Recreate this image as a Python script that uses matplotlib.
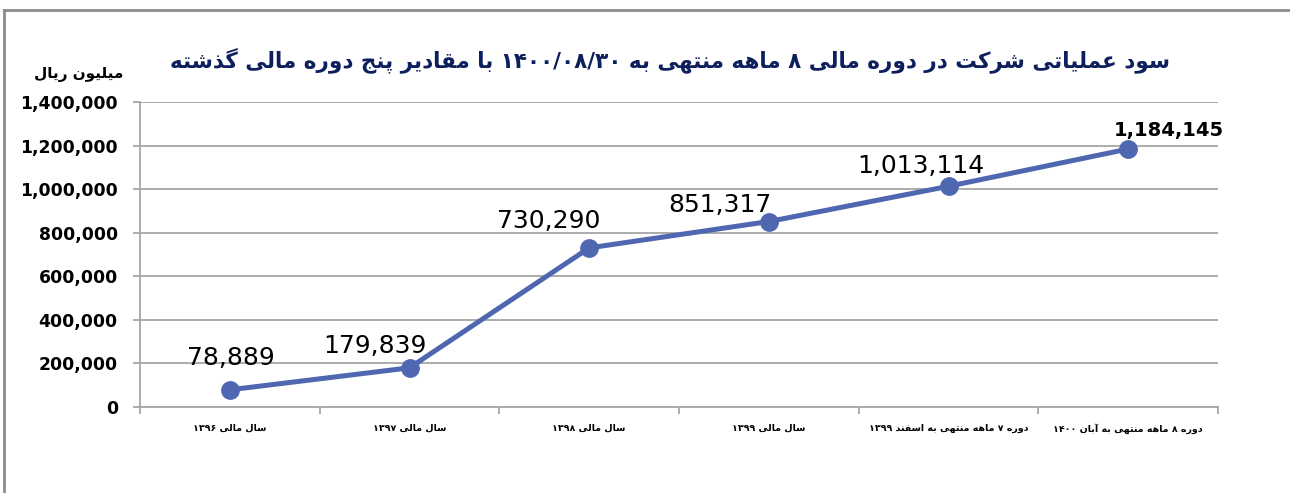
import re
import matplotlib
matplotlib.use("Agg")
import matplotlib.pyplot as plt
from matplotlib.lines import Line2D

# ---------------- data ----------------
categories = [
    "سال مالی ۱۳۹۶",
    "سال مالی ۱۳۹۷",
    "سال مالی ۱۳۹۸",
    "سال مالی ۱۳۹۹",
    "دوره ۷ ماهه منتهی به اسفند ۱۳۹۹",
    "دوره ۸ ماهه منتهی به آبان ۱۴۰۰",
]
values = [78889, 179839, 730290, 851317, 1013114, 1184145]
y_ticks = [0, 200000, 400000, 600000, 800000, 1000000, 1200000, 1400000]
title_text = "سود عملیاتی شرکت در دوره مالی ۸ ماهه منتهی به ۱۴۰۰/۰۸/۳۰ با مقادیر پنج دوره مالی گذشته"
unit_text = "میلیون ریال"

# label offsets in pixels (dx, dy) relative to the point
label_offsets = [(1, 25), (-35, 15), (-40, 20), (-49, 10), (-28, 13), (41, 13)]

# ---------------- minimal Persian shaping ----------------
FORMS = {  # isolated, final, initial, medial
    "\u0627": ("\uFE8D", "\uFE8E", None, None),
    "\u0622": ("\uFE81", "\uFE82", None, None),
    "\u0628": ("\uFE8F", "\uFE90", "\uFE91", "\uFE92"),
    "\u067E": ("\uFB56", "\uFB57", "\uFB58", "\uFB59"),
    "\u062A": ("\uFE95", "\uFE96", "\uFE97", "\uFE98"),
    "\u062C": ("\uFE9D", "\uFE9E", "\uFE9F", "\uFEA0"),
    "\u062F": ("\uFEA9", "\uFEAA", None, None),
    "\u0630": ("\uFEAB", "\uFEAC", None, None),
    "\u0631": ("\uFEAD", "\uFEAE", None, None),
    "\u0632": ("\uFEAF", "\uFEB0", None, None),
    "\u0633": ("\uFEB1", "\uFEB2", "\uFEB3", "\uFEB4"),
    "\u0634": ("\uFEB5", "\uFEB6", "\uFEB7", "\uFEB8"),
    "\u0639": ("\uFEC9", "\uFECA", "\uFECB", "\uFECC"),
    "\u0641": ("\uFED1", "\uFED2", "\uFED3", "\uFED4"),
    "\u0642": ("\uFED5", "\uFED6", "\uFED7", "\uFED8"),
    "\u06A9": ("\uFB8E", "\uFB8F", "\uFB90", "\uFB91"),
    "\u06AF": ("\uFB92", "\uFB93", "\uFB94", "\uFB95"),
    "\u0644": ("\uFEDD", "\uFEDE", "\uFEDF", "\uFEE0"),
    "\u0645": ("\uFEE1", "\uFEE2", "\uFEE3", "\uFEE4"),
    "\u0646": ("\uFEE5", "\uFEE6", "\uFEE7", "\uFEE8"),
    "\u0647": ("\uFEE9", "\uFEEA", "\uFEEB", "\uFEEC"),
    "\u0648": ("\uFEED", "\uFEEE", None, None),
    "\u06CC": ("\uFBFC", "\uFBFD", "\uFBFE", "\uFBFF"),
}


def dual(c):
    return c in FORMS and FORMS[c][2] is not None


def shape(text):
    out = []
    n = len(text)
    for i, c in enumerate(text):
        if c not in FORMS:
            out.append(c)
            continue
        prev_j = i > 0 and dual(text[i - 1])
        next_j = i < n - 1 and text[i + 1] in FORMS and dual(c)
        iso, fin, ini, med = FORMS[c]
        if prev_j and next_j:
            out.append(med)
        elif prev_j:
            out.append(fin)
        elif next_j:
            out.append(ini)
        else:
            out.append(iso)
    vis = "".join(out)[::-1]
    vis = re.sub(r"[0-9\u06F0-\u06F9/]+", lambda m: m.group()[::-1], vis)
    return vis


# ---------------- figure ----------------
plt.rcParams["font.family"] = ["DejaVu Sans"]
W, H = 1290, 493
fig = plt.figure(figsize=(W / 100, H / 100), dpi=100)
fig.patch.set_facecolor("white")

L, R, T, B = 140, 1218, 102, 407
ax = fig.add_axes([L / W, 1 - B / H, (R - L) / W, (B - T) / H])

grid_c = "#A6A6A6"
line_c = "#4F67B0"

x = list(range(len(values)))
ax.plot(x, values, color=line_c, lw=3.6, marker="o", ms=12.5,
        markerfacecolor=line_c, markeredgecolor=line_c, zorder=3,
        solid_capstyle="round")

ax.set_xlim(-0.5, len(values) - 0.5)
ax.set_ylim(0, 1400000)
ax.set_yticks(y_ticks)
ax.set_yticklabels([f"{v:,}" for v in y_ticks], fontsize=12.4, fontweight="bold")
ax.yaxis.grid(True, color=grid_c, lw=1.3)
ax.set_axisbelow(True)

ax.set_xticks(x)
ax.set_xticklabels([shape(c) for c in categories], fontsize=6.8, fontweight="bold")
ax.set_xticks([i - 0.5 for i in range(len(values) + 1)], minor=True)
ax.tick_params(axis="x", which="major", length=0, pad=12)
ax.tick_params(axis="x", which="minor", length=5, color=grid_c, width=1.3)
ax.tick_params(axis="y", length=5, color=grid_c, width=1.3, pad=11)

for s in ["top", "right"]:
    ax.spines[s].set_visible(False)
for s in ["left", "bottom"]:
    ax.spines[s].set_color(grid_c)
    ax.spines[s].set_linewidth(1.3)

for i, (v, (dx, dy)) in enumerate(zip(values, label_offsets)):
    last = i == len(values) - 1
    ax.annotate(f"{v:,}", (i, v), xytext=(dx, dy), textcoords="offset pixels",
                ha="center", va="baseline",
                fontsize=14 if last else 18,
                fontweight="bold" if last else "normal", color="black")

fig.text(670 / W, 1 - 60 / H, shape(title_text), ha="center", va="center",
         fontsize=15.5, fontweight="bold", color="#0E1F5E")
fig.text(79 / W, 1 - 75 / H, shape(unit_text), ha="center", va="center",
         fontsize=11, fontweight="bold", color="black")

# outer frame
fig.add_artist(Line2D([4 / W, 4 / W], [0, 1 - 10 / H], color="#8C8C8C", lw=2,
                      transform=fig.transFigure))
fig.add_artist(Line2D([4 / W, 1], [1 - 10 / H, 1 - 10 / H], color="#8C8C8C", lw=2,
                      transform=fig.transFigure))

fig.savefig("out.png", dpi=100)
